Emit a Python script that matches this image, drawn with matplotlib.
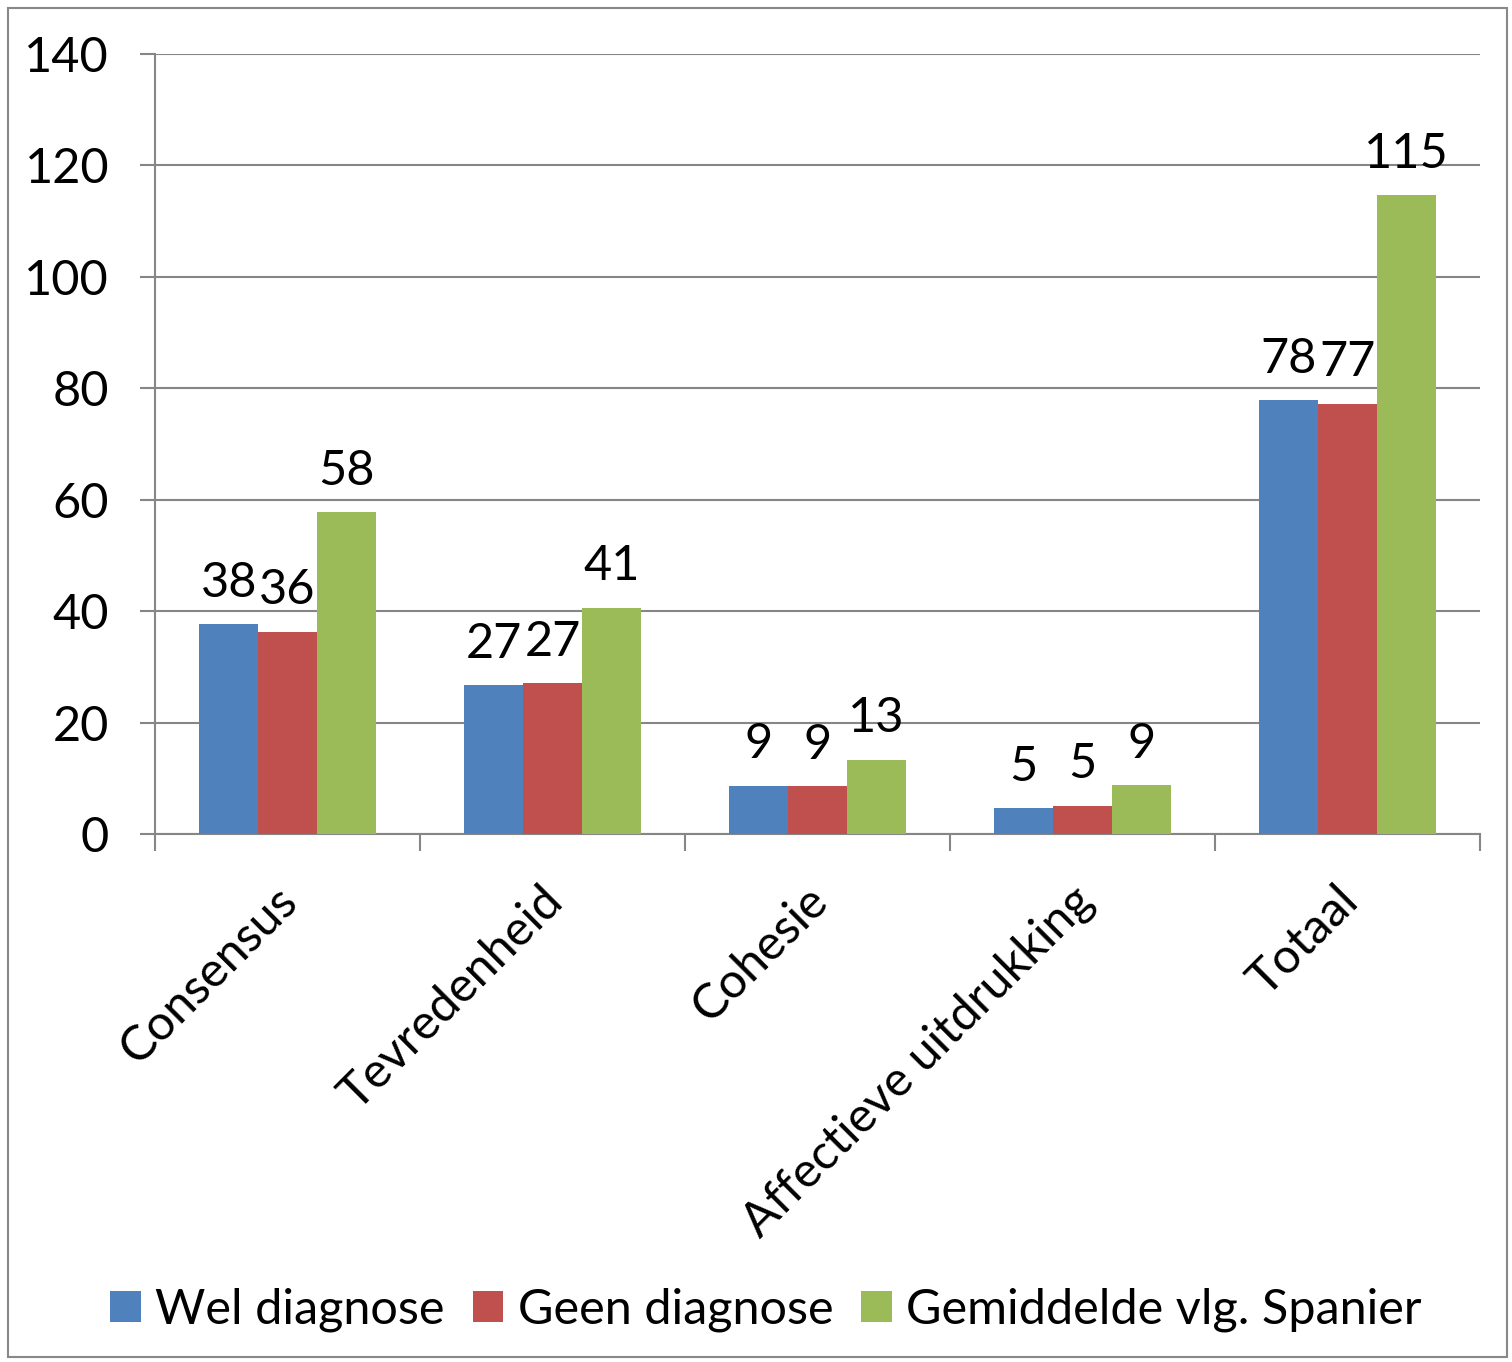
import matplotlib
matplotlib.use("Agg")
import matplotlib.pyplot as plt
from matplotlib.patches import Rectangle
from matplotlib.ticker import FixedLocator
import matplotlib.transforms as mtransforms
import numpy as np

categories = ["Consensus", "Tevredenheid", "Cohesie", "Affectieve uitdrukking", "Totaal"]
series_names = ["Wel diagnose", "Geen diagnose", "Gemiddelde vlg. Spanier"]
wel = [37.7, 26.7, 8.7, 4.6, 77.9]
geen = [36.3, 27.1, 8.6, 5.1, 77.2]
gemiddelde = [57.8, 40.6, 13.3, 8.8, 114.7]
colors = ["#4F81BD", "#C0504D", "#9BBB59"]
yticks = [0, 20, 40, 60, 80, 100, 120, 140]

plt.rcParams['font.family'] = ['Lato', 'DejaVu Sans']
FS = 35

W, H = 1512, 1362
fig = plt.figure(figsize=(W / 100, H / 100), dpi=100)
fig.patches.append(Rectangle((8 / W, 5 / H), (1507 - 8) / W, (1354 - 5) / H,
                             transform=fig.transFigure, fill=False,
                             edgecolor="#888888", linewidth=1.5))

ax = fig.add_axes([155 / W, (H - 834) / H, (1480 - 155) / W, (834 - 54) / H])
x = np.arange(len(categories))
bw = 0.222
allvals = [wel, geen, gemiddelde]
for i, (vals, name, c) in enumerate(zip(allvals, series_names, colors)):
    bars = ax.bar(x + (i - 1) * bw, vals, width=bw, color=c, label=name,
                  edgecolor="none", zorder=3)
    for b, v in zip(bars, vals):
        ax.annotate(f"{v:.0f}", (b.get_x() + b.get_width() / 2, v),
                    xytext=(0, 14), textcoords="offset points",
                    ha="center", va="bottom", fontsize=FS, color="black")

ax.set_xlim(-0.5, len(categories) - 0.5)
ax.set_ylim(0, 140)
ax.set_yticks(yticks)
ax.set_yticklabels([str(t) for t in yticks], fontsize=FS)
ax.yaxis.grid(True, color="#868686", linewidth=1.5, zorder=0)
ax.tick_params(axis="y", length=11, width=1.5, color="#868686", pad=22)

ax.set_xticks(x)
ax.set_xticklabels(categories, rotation=45, ha="right", rotation_mode="anchor",
                   fontsize=FS, va="center")
ax.tick_params(axis="x", which="major", length=0, pad=43)
ax.xaxis.set_minor_locator(FixedLocator(np.arange(-0.5, len(categories), 1.0)))
ax.tick_params(axis="x", which="minor", length=12, width=1.5, color="#868686")

for s in ["top", "right"]:
    ax.spines[s].set_visible(False)
for s in ["left", "bottom"]:
    ax.spines[s].set_color("#868686")
    ax.spines[s].set_linewidth(1.5)

for lbl in ax.get_xticklabels():
    lbl.set_transform(lbl.get_transform() + mtransforms.ScaledTranslation(3 / 100, 0, fig.dpi_scale_trans))

fig.legend(loc="center", bbox_to_anchor=(766 / W, (H - 1310) / H), ncol=3,
           frameon=False, fontsize=FS, handlelength=0.62, handleheight=0.62,
           handletextpad=0.3, columnspacing=0.58, borderaxespad=0)

fig.savefig("out.png", dpi=100)
